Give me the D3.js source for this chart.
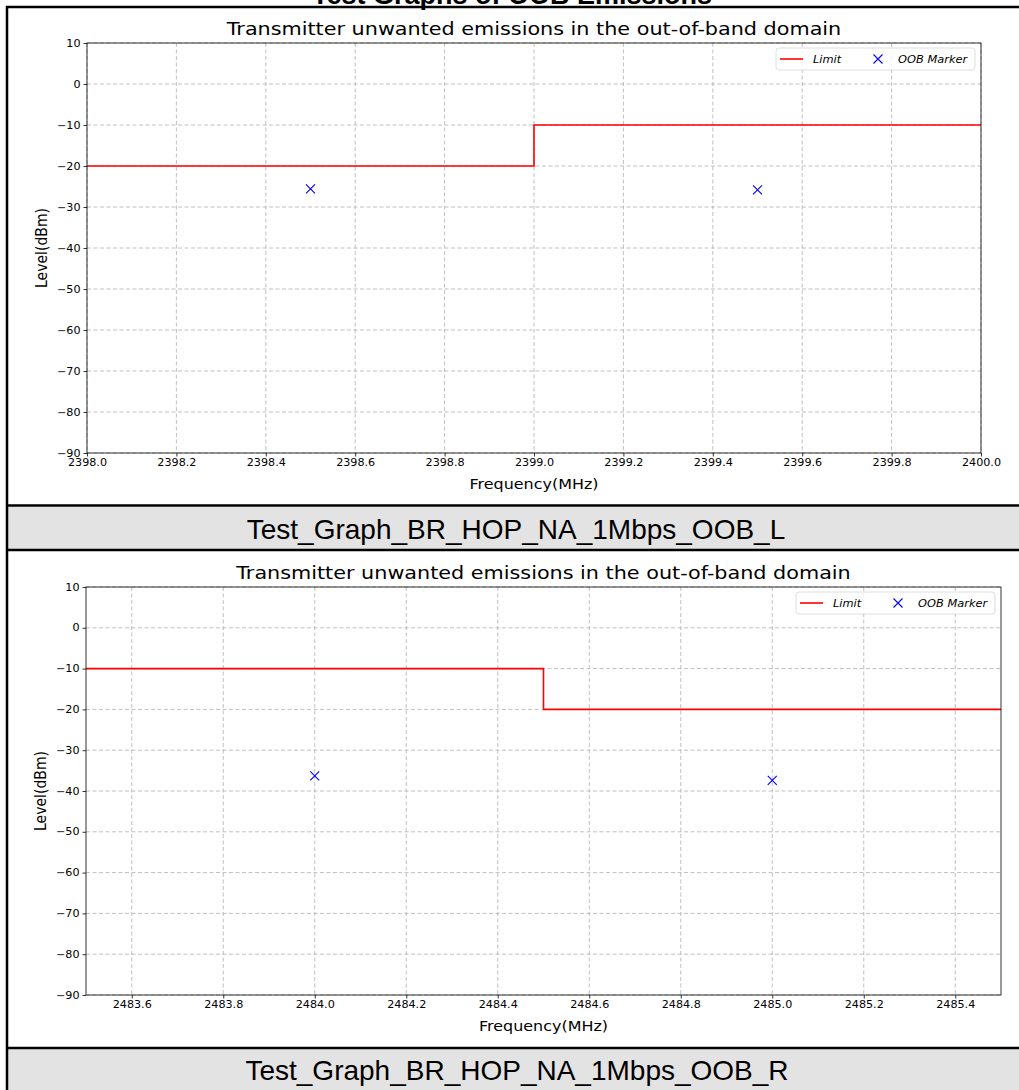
<!DOCTYPE html>
<html>
<head>
<meta charset="utf-8">
<script src="https://cdn.jsdelivr.net/npm/d3@7"></script>
<style>
  html, body { margin: 0; padding: 0; background: #fff; }
  svg { display: block; }
  text { font-family: "DejaVu Sans", sans-serif; }
</style>
</head>
<body>
<svg id="page" width="1019" height="1090"></svg>
<script>
// data
var pageTitle = "Test Graphs of OOB Emissions";
var plotTitle = "Transmitter unwanted emissions in the out-of-band domain";
var captions = ["Test_Graph_BR_HOP_NA_1Mbps_OOB_L", "Test_Graph_BR_HOP_NA_1Mbps_OOB_R"];

var freqDomainL = [2398.0, 2400.0];
var limitFreqL = [2398.0, 2399.0, 2399.0, 2400.0];
var limitLevelL = [-20, -20, -10, -10];
var markerFreqL = [2398.5, 2399.5];
var markerLevelL = [-25.6, -25.8];
var xTicksL = [2398.0, 2398.2, 2398.4, 2398.6, 2398.8, 2399.0, 2399.2, 2399.4, 2399.6, 2399.8, 2400.0];

var freqDomainR = [2483.5, 2485.5];
var limitFreqR = [2483.5, 2484.5, 2484.5, 2485.5];
var limitLevelR = [-10, -10, -20, -20];
var markerFreqR = [2484.0, 2485.0];
var markerLevelR = [-36.3, -37.4];
var xTicksR = [2483.6, 2483.8, 2484.0, 2484.2, 2484.4, 2484.6, 2484.8, 2485.0, 2485.2, 2485.4];

var levelDomain = [-90, 10];
var yTicks = [-90, -80, -70, -60, -50, -40, -30, -20, -10, 0, 10];

// the chart images are stretched sideways a bit
var sx = 1.14;

var svg = d3.select("#page");

// table-like frame around the two images
svg.append("rect").attr("x", 8).attr("y", 507).attr("width", 1011).attr("height", 42).attr("fill", "#e3e3e3");
svg.append("rect").attr("x", 8).attr("y", 1049).attr("width", 1011).attr("height", 41).attr("fill", "#e3e3e3");
[7, 505.5, 550, 1048].forEach(function(y) {
  svg.append("line").attr("x1", 6).attr("x2", 1019).attr("y1", y).attr("y2", y)
    .attr("stroke", "#000").attr("stroke-width", 2.5);
});
svg.append("line").attr("x1", 7).attr("x2", 7).attr("y1", 6).attr("y2", 1090)
  .attr("stroke", "#000").attr("stroke-width", 2.5);

svg.append("text").attr("x", 512).attr("y", 4).attr("text-anchor", "middle")
  .style("font-family", "Liberation Sans, Arial, sans-serif")
  .style("font-weight", "bold").style("font-size", "27px").text(pageTitle);

svg.append("text").attr("x", 516).attr("y", 539).attr("text-anchor", "middle")
  .style("font-family", "Liberation Sans, Arial, sans-serif")
  .style("font-size", "28px").text(captions[0]);
svg.append("text").attr("x", 517).attr("y", 1080).attr("text-anchor", "middle")
  .style("font-family", "Liberation Sans, Arial, sans-serif")
  .style("font-size", "28px").text(captions[1]);

// text stretched sideways like the chart image
function wideText(parent, x, y, size, str) {
  return parent.append("g").attr("transform", "translate(" + x + "," + y + ") scale(" + sx + ",1)")
    .append("text").attr("text-anchor", "middle").style("font-size", size + "px").text(str);
}

function drawPlot(box, freqDomain, xTicks, limitFreq, limitLevel, markerFreq, markerLevel) {
  var x = d3.scaleLinear().domain(freqDomain).range([box.left, box.right]);
  var y = d3.scaleLinear().domain(levelDomain).range([box.bottom, box.top]);
  var g = svg.append("g");

  // grid
  g.append("g").selectAll("line").data(xTicks).enter().append("line")
    .attr("x1", function(d) { return x(d); }).attr("x2", function(d) { return x(d); })
    .attr("y1", box.top).attr("y2", box.bottom)
    .attr("stroke", "#b0b0b0").attr("stroke-width", 0.8).attr("stroke-dasharray", "4,2.5");
  g.append("g").selectAll("line").data(yTicks).enter().append("line")
    .attr("x1", box.left).attr("x2", box.right)
    .attr("y1", function(d) { return y(d); }).attr("y2", function(d) { return y(d); })
    .attr("stroke", "#b0b0b0").attr("stroke-width", 0.8).attr("stroke-dasharray", "4,2.5");

  // limit line
  var pts = limitFreq.map(function(f, i) { return [f, limitLevel[i]]; });
  g.append("path").datum(pts)
    .attr("d", d3.line().x(function(d) { return x(d[0]); }).y(function(d) { return y(d[1]); }))
    .attr("fill", "none").attr("stroke", "#ff0000").attr("stroke-width", 1.6);

  // markers
  var mk = markerFreq.map(function(f, i) { return [f, markerLevel[i]]; });
  g.append("g").selectAll("path").data(mk).enter().append("path")
    .attr("d", "M-4.5,-4.5L4.5,4.5M-4.5,4.5L4.5,-4.5")
    .attr("transform", function(d) { return "translate(" + x(d[0]) + "," + y(d[1]) + ")"; })
    .attr("stroke", "#0000ff").attr("stroke-width", 1.1).attr("fill", "none");

  // axes
  var xAxis = d3.axisBottom(x).tickValues(xTicks).tickFormat(d3.format(".1f")).tickSize(3.5).tickPadding(3);
  var yAxis = d3.axisLeft(y).tickValues(yTicks).tickFormat(function(d) { return d < 0 ? "\u2212" + Math.abs(d) : d; }).tickSize(3.5).tickPadding(3);
  var gx = g.append("g").attr("transform", "translate(0," + box.bottom + ")").call(xAxis);
  var gy = g.append("g").attr("transform", "translate(" + box.left + ",0)").call(yAxis);
  [gx, gy].forEach(function(a) {
    a.select(".domain").remove();
    a.selectAll("line").attr("stroke", "#000").attr("stroke-width", 0.8);
    a.selectAll("text").attr("fill", "#000").style("font-family", "DejaVu Sans").style("font-size", "9.8px")
      .attr("transform", "scale(" + sx + ",1)");
  });
  gy.selectAll("text").attr("x", -6.5 / sx);

  g.append("rect").attr("x", box.left).attr("y", box.top)
    .attr("width", box.right - box.left).attr("height", box.bottom - box.top)
    .attr("fill", "none").attr("stroke", "#000").attr("stroke-width", 0.8);

  // labels
  wideText(g, (box.left + box.right) / 2, box.top - 8, 18.2, plotTitle);
  wideText(g, (box.left + box.right) / 2, box.bottom + 36, 14, "Frequency(MHz)");
  g.append("text").attr("transform", "translate(" + (box.left - 40) + "," + ((box.top + box.bottom) / 2) + ") rotate(-90) scale(1," + sx + ")")
    .attr("text-anchor", "middle").style("font-size", "14px").text("Level(dBm)");

  // legend
  var lg = g.append("g").attr("transform", "translate(" + (box.right - 205) + "," + (box.top + 5) + ")");
  lg.append("rect").attr("width", 199).attr("height", 22).attr("rx", 3)
    .attr("fill", "#fff").attr("fill-opacity", 0.8).attr("stroke", "#d6d6d6").attr("stroke-width", 0.8);
  lg.append("line").attr("x1", 4).attr("x2", 27).attr("y1", 11).attr("y2", 11)
    .attr("stroke", "#ff0000").attr("stroke-width", 1.6);
  lg.append("g").attr("transform", "translate(37,15) scale(" + sx + ",1)")
    .append("text").style("font-size", "10px").style("font-style", "italic").text("Limit");
  lg.append("path").attr("d", "M-4.5,-4.5L4.5,4.5M-4.5,4.5L4.5,-4.5").attr("transform", "translate(102,11)")
    .attr("stroke", "#0000ff").attr("stroke-width", 1.1);
  lg.append("g").attr("transform", "translate(122,15) scale(" + sx + ",1)")
    .append("text").style("font-size", "10px").style("font-style", "italic").text("OOB Marker");
}

drawPlot({ left: 87, right: 981, top: 43, bottom: 453 }, freqDomainL, xTicksL, limitFreqL, limitLevelL, markerFreqL, markerLevelL);
drawPlot({ left: 86, right: 1001, top: 587, bottom: 995 }, freqDomainR, xTicksR, limitFreqR, limitLevelR, markerFreqR, markerLevelR);
</script>
</body>
</html>
